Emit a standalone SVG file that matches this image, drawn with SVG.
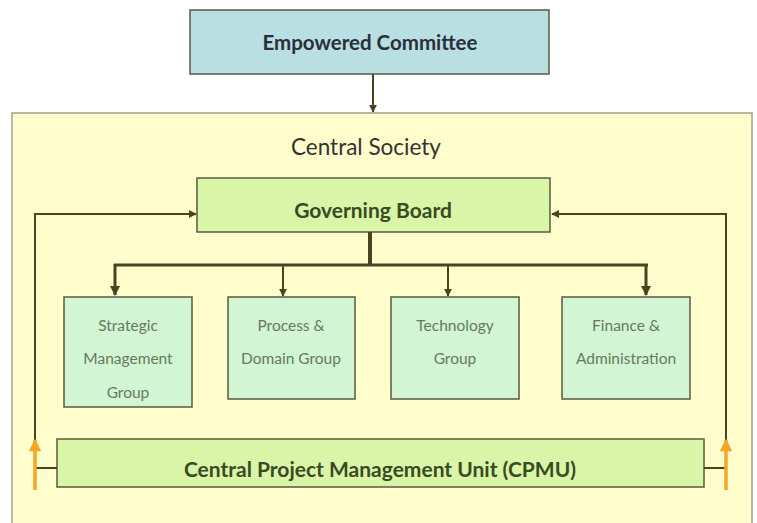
<svg xmlns="http://www.w3.org/2000/svg" width="757" height="523" viewBox="0 0 757 523">
<defs>
<style>
.bold{font-family:Lato,"Liberation Sans",sans-serif;font-weight:bold;text-anchor:middle;}
.grp{font-family:Lato,"Liberation Sans",sans-serif;font-size:15.5px;fill:#667a5a;text-anchor:middle;}
.box{stroke:#5a5a40;stroke-width:1.5;}
.gbox{fill:#d2f5d4;stroke:#5a5a40;stroke-width:1.5;}
.ln{fill:none;stroke:#4a4220;}
</style>
<marker id="ah" viewBox="0 0 10 10" refX="9" refY="5" markerWidth="4" markerHeight="4" orient="auto"><path d="M0,0L10,5L0,10z" fill="#4a4220"/></marker>
<marker id="ahb" viewBox="0 0 10 10" refX="9" refY="5" markerWidth="3.5" markerHeight="3.5" orient="auto"><path d="M0,0L10,5L0,10z" fill="#4a4220"/></marker>
<marker id="aho" viewBox="0 0 10 10" refX="9" refY="5" markerWidth="4" markerHeight="3.6" orient="auto"><path d="M0,0L10,5L0,10z" fill="#f5a623"/></marker>
</defs>
<rect width="757" height="523" fill="#ffffff"/>
<g id="central-society">
<rect x="12" y="113" width="740" height="420" fill="#fffdcc" stroke="#a0a090" stroke-width="1.5"/>
<text x="366" y="155" font-family="Lato,'Liberation Sans',sans-serif" font-size="22.5" fill="#333" text-anchor="middle">Central Society</text>
</g>
<g id="empowered-committee">
<rect x="190" y="10" width="359" height="64" fill="#b9dfe3" class="box"/>
<text x="370" y="50" class="bold" font-size="20.5" fill="#2a3038">Empowered Committee</text>
</g>
<g id="governing-board">
<rect x="197" y="178" width="353" height="54" fill="#d8f5a8" class="box"/>
<text x="373" y="218" class="bold" font-size="21" fill="#3a4a22">Governing Board</text>
</g>
<g id="strategic">
<rect x="64" y="297" width="128" height="110" class="gbox"/>
<text x="128" y="331" class="grp">Strategic</text>
<text x="128" y="364" class="grp">Management</text>
<text x="128" y="398" class="grp">Group</text>
</g>
<g id="process">
<rect x="228" y="297" width="127" height="102" class="gbox"/>
<text x="291" y="331" class="grp">Process &amp;</text>
<text x="291" y="364" class="grp">Domain Group</text>
</g>
<g id="technology">
<rect x="391" y="297" width="128" height="102" class="gbox"/>
<text x="455" y="331" class="grp">Technology</text>
<text x="455" y="364" class="grp">Group</text>
</g>
<g id="finance">
<rect x="562" y="297" width="128" height="102" class="gbox"/>
<text x="626" y="331" class="grp">Finance &amp;</text>
<text x="626" y="364" class="grp">Administration</text>
</g>
<g id="cpmu">
<rect x="57" y="439" width="647" height="48" fill="#d8f5a8" class="box"/>
<text x="380" y="477" class="bold" font-size="21" fill="#3a4a22">Central Project Management Unit (CPMU)</text>
</g>
<g id="connectors">
<path class="ln" stroke-width="2" d="M373,74V112" marker-end="url(#ah)"/>
<path class="ln" stroke-width="4" d="M370,232V265"/>
<path class="ln" stroke-width="3" d="M114,265H648"/>
<path class="ln" stroke-width="3" d="M115,264V295" marker-end="url(#ahb)"/>
<path class="ln" stroke-width="2" d="M283,265V296" marker-end="url(#ah)"/>
<path class="ln" stroke-width="2" d="M448,265V296" marker-end="url(#ah)"/>
<path class="ln" stroke-width="3" d="M646,264V295" marker-end="url(#ahb)"/>
<path class="ln" stroke-width="2" d="M35,490V214H196" marker-end="url(#ah)"/>
<path class="ln" stroke-width="2" d="M726,490V214H552" marker-end="url(#ah)"/>
<path class="ln" stroke-width="2" d="M35,468H57"/>
<path class="ln" stroke-width="2" d="M704,468H726"/>
<path fill="none" stroke="#f5a623" stroke-width="3.5" d="M35,490V440" marker-end="url(#aho)"/>
<path fill="none" stroke="#f5a623" stroke-width="3.5" d="M726,490V440" marker-end="url(#aho)"/>
</g>
</svg>
